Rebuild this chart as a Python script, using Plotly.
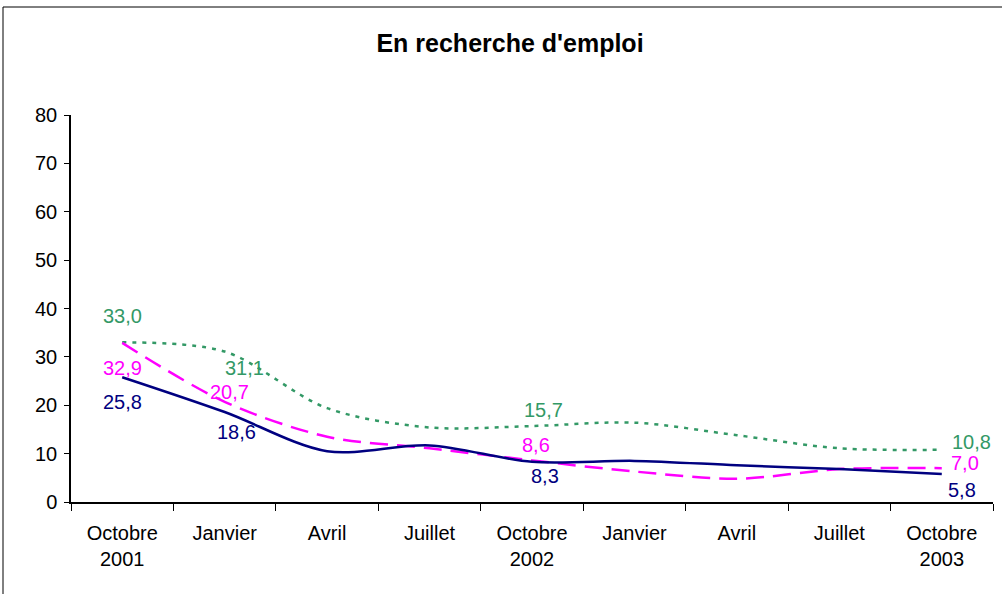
import plotly.graph_objects as go

categories = ["Octobre<br>2001", "Janvier", "Avril", "Juillet", "Octobre<br>2002",
              "Janvier", "Avril", "Juillet", "Octobre<br>2003"]
green_vals = [33.0, 31.1, 19.4, 15.4, 15.7, 16.4, 13.8, 11.1, 10.8]
magenta_vals = [32.9, 20.7, 13.5, 11.1, 8.6, 6.3, 4.8, 6.8, 7.0]
navy_vals = [25.8, 18.6, 10.5, 11.7, 8.3, 8.5, 7.6, 6.8, 5.8]
y_ticks = [0, 10, 20, 30, 40, 50, 60, 70, 80]

labelled = [0, 1, 4, 8]
x = list(range(len(categories)))

GREEN = "#339966"
MAGENTA = "#FF00FF"
NAVY = "#000080"
FONT = "Liberation Sans, Arial, sans-serif"

fig = go.Figure()
fig.add_trace(go.Scatter(x=x, y=green_vals, mode="lines",
                         line=dict(color=GREEN, width=2.5, dash="4px,6px", shape="spline", smoothing=0.9)))
fig.add_trace(go.Scatter(x=x, y=magenta_vals, mode="lines",
                         line=dict(color=MAGENTA, width=2.5, dash="18px,9px", shape="spline", smoothing=0.9)))
fig.add_trace(go.Scatter(x=x, y=navy_vals, mode="lines",
                         line=dict(color=NAVY, width=2.5, shape="spline", smoothing=0.9)))

def fmt(v):
    return f"{v:.1f}".replace(".", ",")

# label offsets (pixels) per labelled index for each series
offsets = {
    "g": {0: (0, 26), 1: (20, -16), 4: (11, 16), 8: (30, 8)},
    "m": {0: (0, -25), 1: (5, 10), 4: (4, 15), 8: (23, 5)},
    "n": {0: (0, -25), 1: (12, -20), 4: (13, -14), 8: (20, -16)},
}
for key, vals, col in (("g", green_vals, GREEN), ("m", magenta_vals, MAGENTA), ("n", navy_vals, NAVY)):
    for i in labelled:
        dx, dy = offsets[key][i]
        fig.add_annotation(x=x[i], y=vals[i], text=fmt(vals[i]), showarrow=False,
                           xshift=dx, yshift=dy, font=dict(family=FONT, size=20, color=col))

fig.add_shape(type="rect", xref="paper", yref="paper",
              x0=(3 - 71) / 922, x1=(1010 - 71) / 922, y0=(502 - 600) / 387, y1=(502 - 7) / 387,
              line=dict(color="black", width=1), fillcolor="rgba(0,0,0,0)", layer="below")

fig.update_layout(
    width=1002, height=594,
    margin=dict(l=71, r=9, t=115, b=92),
    paper_bgcolor="white", plot_bgcolor="white",
    showlegend=False,
    title=dict(text="<b>En recherche d'emploi</b>", x=0.509, xanchor="center", y=0.928, yanchor="middle",
               font=dict(family=FONT, size=25, color="black")),
    font=dict(family=FONT, size=20, color="black"),
    xaxis=dict(range=[-0.5, 8.5], tickvals=x, ticktext=categories, ticks="", showgrid=False,
               zeroline=False, showline=True, linecolor="black", linewidth=1.5,
               ticklabelstandoff=12,
               tickfont=dict(family=FONT, size=20, color="black"),
               minor=dict(ticks="outside", tick0=-0.5, dtick=1, ticklen=7, tickcolor="black", tickwidth=1, showgrid=False)),
    yaxis=dict(range=[0, 80], tickvals=y_ticks, ticks="outside", ticklen=5, tickcolor="black",
               showgrid=False, zeroline=False, showline=True, linecolor="black", linewidth=1.5,
               ticklabelstandoff=3,
               tickfont=dict(family=FONT, size=20, color="black")),
)

fig.write_html("out.html", config={"displayModeBar": False},
               post_script="document.body.style.margin='0px';document.body.style.overflow='hidden';")
